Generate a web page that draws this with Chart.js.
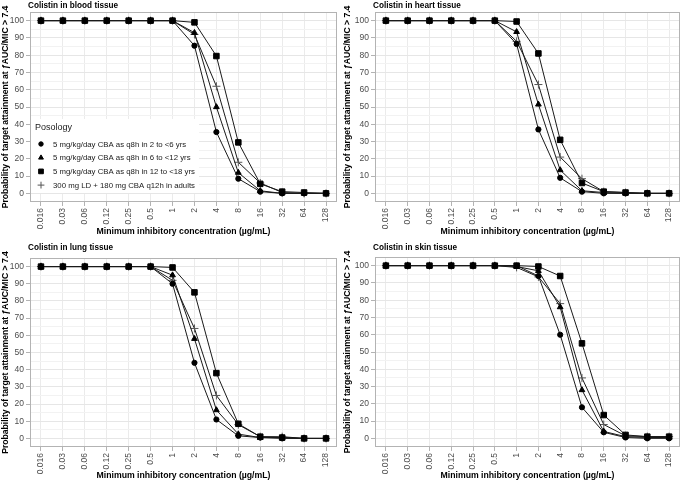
<!DOCTYPE html>
<html>
<head>
<meta charset="utf-8">
<script src="https://cdn.jsdelivr.net/npm/chart.js@4.4.1/dist/chart.umd.min.js"></script>
<style>
  body { margin: 0; background: #fff; }
  #wrap { position: relative; width: 685px; height: 481px; }
  canvas { position: absolute; }
</style>
</head>
<body>
<div id="wrap">
  <canvas id="blood" width="342" height="240" style="left:0;top:0;width:342px;height:240px"></canvas>
  <canvas id="heart" width="343" height="240" style="left:342px;top:0;width:343px;height:240px"></canvas>
  <canvas id="lung" width="342" height="241" style="left:0;top:240px;width:342px;height:241px"></canvas>
  <canvas id="skin" width="343" height="241" style="left:342px;top:240px;width:343px;height:241px"></canvas>
</div>
<script>
const micLabels = ['0.016', '0.03', '0.06', '0.12', '0.25', '0.5', '1', '2', '4', '8', '16', '32', '64', '128'];
const seriesNames = [
    '5 mg/kg/day CBA as q8h in 2 to <6 yrs',
    '5 mg/kg/day CBA as q8h in 6 to <12 yrs',
    '5 mg/kg/day CBA as q8h in 12 to <18 yrs',
    '300 mg LD + 180 mg CBA q12h in adults'
];

// blood tissue
const blood2to6   = [100, 100, 100, 100, 100, 100, 100, 85.5, 35.5, 8.5, 1, 0, 0, 0];
const blood6to12  = [100, 100, 100, 100, 100, 100, 100, 93, 50, 12, 1.5, 0, 0, 0];
const blood12to18 = [100, 100, 100, 100, 100, 100, 100, 99, 79.5, 29.5, 5.5, 1, 0.5, 0];
const bloodAdults = [100, 100, 100, 100, 100, 100, 100, 92, 62, 18, 6, 0.5, 0, 0];

// heart tissue
const heart2to6   = [100, 100, 100, 100, 100, 100, 86.5, 37, 9, 1, 0, 0, 0, 0];
const heart6to12  = [100, 100, 100, 100, 100, 100, 93.5, 51.5, 13.5, 1.5, 0.5, 0, 0, 0];
const heart12to18 = [100, 100, 100, 100, 100, 100, 99.5, 81, 31, 6, 1, 0.5, 0, 0];
const heartAdults = [100, 100, 100, 100, 100, 100, 88, 63, 21, 8.5, 1, 0.5, 0, 0];

// lung tissue
const lung2to6   = [100, 100, 100, 100, 100, 100, 90, 44, 11, 1.5, 0.5, 0, 0, 0];
const lung6to12  = [100, 100, 100, 100, 100, 100, 95, 58, 16.5, 2.5, 0.5, 0.5, 0, 0];
const lung12to18 = [100, 100, 100, 100, 100, 100, 99.5, 85, 38, 8.5, 1, 0.5, 0, 0];
const lungAdults = [100, 100, 100, 100, 100, 100, 92, 64, 25, 8, 1, 1, 0, 0];

// skin tissue
const skin2to6   = [100, 100, 100, 100, 100, 100, 100, 94, 60, 18, 3.5, 0.5, 0, 0];
const skin6to12  = [100, 100, 100, 100, 100, 100, 99.5, 97, 76, 28, 4, 1, 0.5, 0.5];
const skin12to18 = [100, 100, 100, 100, 100, 100, 100, 99.5, 94, 55, 13.5, 2, 1, 1];
const skinAdults = [100, 100, 100, 100, 100, 100, 99, 93.5, 78, 35, 8, 1.5, 1, 1];

const FONT = "'Liberation Sans', Arial, sans-serif";
const markers = [
    { style: 'circle', radius: 2.6, color: '#000' },
    { style: 'triangle', radius: 3.3, color: '#000' },
    { style: 'rect', radius: 3.9, color: '#000' },
    { style: 'cross', radius: 4, color: '#555' }
];

// draws the panel title, the grey panel border and (optionally) the legend
const panelDecor = {
    id: 'panelDecor',
    afterDraw(chart, args, opts) {
        const ctx = chart.ctx;
        const a = chart.chartArea;
        ctx.save();
        ctx.strokeStyle = '#b3b3b3';
        ctx.lineWidth = 1;
        ctx.strokeRect(a.left + 0.5, a.top + 0.5, a.right - a.left - 1, a.bottom - a.top - 1);

        ctx.fillStyle = '#000';
        ctx.font = 'bold 8.2px ' + FONT;
        ctx.textBaseline = 'middle';
        ctx.textAlign = 'left';
        ctx.fillText(opts.title, a.left - 2, opts.titleY);

        if (opts.legend) {
            const x = a.left + 1, bottom = a.bottom - 9;
            const top = bottom - 74;
            ctx.fillStyle = '#fff';
            ctx.fillRect(x, top, 168, bottom - top);
            ctx.fillStyle = '#1a1a1a';
            ctx.font = '9px ' + FONT;
            ctx.fillText('Posology', x + 4, top + 9);
            ctx.font = '7.8px ' + FONT;
            chart.data.datasets.forEach((ds, i) => {
                const cy = top + 25 + i * 13.7;
                const m = markers[i];
                ctx.fillStyle = m.color;
                ctx.strokeStyle = m.color;
                Chart.helpers.drawPoint(ctx, {
                    pointStyle: m.style,
                    radius: m.radius * 0.85,
                    borderWidth: 1,
                    rotation: 0
                }, x + 10, cy);
                ctx.fillStyle = '#1a1a1a';
                ctx.fillText(ds.label, x + 22, cy + 0.5);
            });
        }
        ctx.restore();
    }
};

function makePanel(id, title, series, opts) {
    const datasets = series.map((values, i) => ({
        label: seriesNames[i],
        data: values,
        borderColor: '#1a1a1a',
        borderWidth: 1,
        pointStyle: markers[i].style,
        pointRadius: markers[i].radius,
        pointBorderWidth: 1,
        pointBackgroundColor: markers[i].color,
        pointBorderColor: markers[i].color,
        tension: 0
    }));

    return new Chart(document.getElementById(id), {
        type: 'line',
        data: { labels: micLabels, datasets: datasets },
        plugins: [panelDecor],
        options: {
            responsive: false,
            animation: false,
            layout: { padding: { top: opts.top, right: opts.right, left: 0, bottom: 0 } },
            plugins: {
                legend: { display: false },
                tooltip: { enabled: false },
                panelDecor: { title: title, titleY: opts.titleY, legend: opts.legend }
            },
            scales: {
                x: {
                    type: 'category',
                    offset: true,
                    afterFit: s => { s.height = opts.xHeight; },
                    border: { display: false },
                    grid: { color: '#ebebeb', lineWidth: 1, tickLength: 4, tickColor: '#b3b3b3' },
                    ticks: {
                        color: '#4d4d4d', autoSkip: false, maxRotation: 90, minRotation: 90,
                        padding: 2, font: { family: FONT, size: 8.5 }
                    },
                    title: {
                        display: true,
                        text: 'Minimum inhibitory concentration (\u00b5g/mL)',
                        color: '#000',
                        padding: { top: 0, bottom: opts.xTitlePad },
                        font: { family: FONT, size: 8.7, weight: 'bold' }
                    }
                },
                y: {
                    min: -5,
                    max: 105,
                    afterFit: s => { s.width = opts.yWidth; },
                    border: { display: false },
                    grid: {
                        tickLength: 4,
                        color: c => (c.tick.value < 0 || c.tick.value > 100) ? 'rgba(0,0,0,0)'
                            : (c.tick.value % 10 === 0 ? '#e6e6e6' : '#f2f2f2'),
                        tickColor: c => (c.tick.value % 10 === 0 && c.tick.value >= 0 && c.tick.value <= 100)
                            ? '#b3b3b3' : 'rgba(0,0,0,0)'
                    },
                    ticks: {
                        stepSize: 5,
                        autoSkip: false,
                        color: '#4d4d4d',
                        padding: 2,
                        font: { family: FONT, size: 8.5 },
                        callback: v => (v % 10 === 0 && v >= 0 && v <= 100) ? String(v) : ''
                    },
                    title: {
                        display: true,
                        text: 'Probability of target attainment at \u0192AUC/MIC > 7.4',
                        color: '#000',
                        padding: { top: 0, bottom: 2 },
                        font: { family: FONT, size: 8.6, weight: 'bold' }
                    }
                }
            }
        }
    });
}

makePanel('blood', 'Colistin in blood tissue',
    [blood2to6, blood6to12, blood12to18, bloodAdults],
    { top: 12, right: 3, yWidth: 30, xHeight: 38, xTitlePad: 3, titleY: 6, legend: true });
makePanel('heart', 'Colistin in heart tissue',
    [heart2to6, heart6to12, heart12to18, heartAdults],
    { top: 12, right: 2, yWidth: 33, xHeight: 38, xTitlePad: 3, titleY: 6, legend: false });
makePanel('lung', 'Colistin in lung tissue',
    [lung2to6, lung6to12, lung12to18, lungAdults],
    { top: 18, right: 4, yWidth: 30, xHeight: 34, xTitlePad: 0, titleY: 8, legend: false });
makePanel('skin', 'Colistin in skin tissue',
    [skin2to6, skin6to12, skin12to18, skinAdults],
    { top: 17, right: 2, yWidth: 33, xHeight: 34, xTitlePad: 0, titleY: 8, legend: false });
</script>
</body>
</html>
